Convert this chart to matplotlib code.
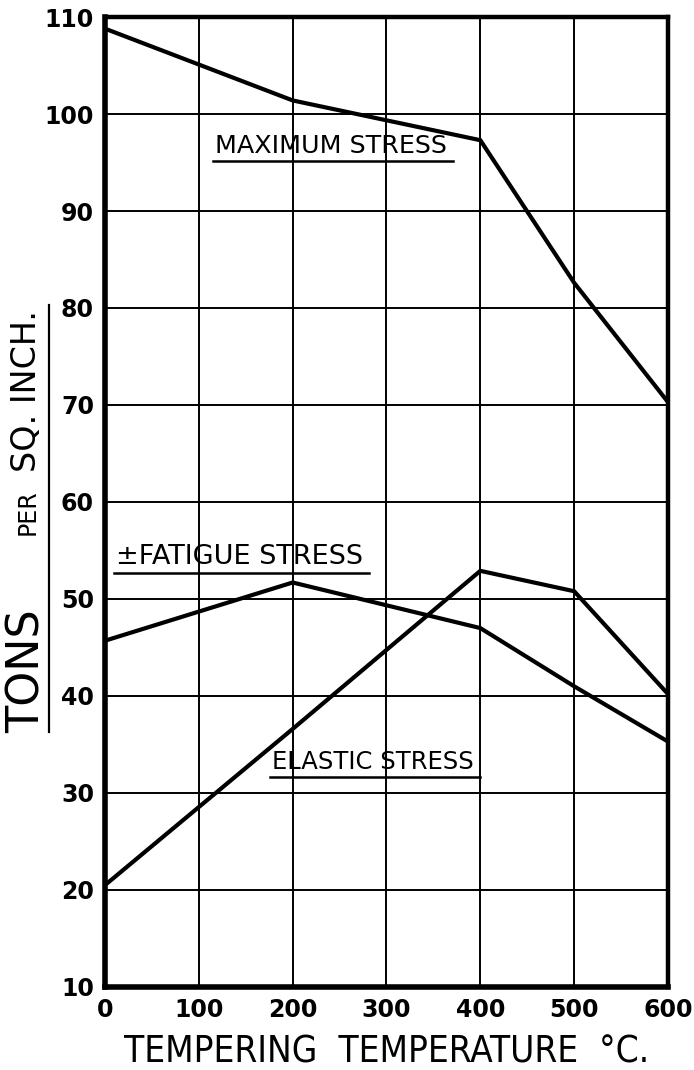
import matplotlib
matplotlib.use("Agg")
import matplotlib.pyplot as plt
from matplotlib.lines import Line2D

plt.rcParams['font.family'] = ['DejaVu Sans']

temps = [0, 200, 400, 500, 600]
max_stress = [108.8, 101.4, 97.3, 82.6, 70.3]
fatigue_stress = [45.7, 51.7, 47.0, 41.0, 35.3]
elastic_stress = [20.5, 36.6, 52.9, 50.8, 40.2]

x_ticks = [0, 100, 200, 300, 400, 500, 600]
y_ticks = [10, 20, 30, 40, 50, 60, 70, 80, 90, 100, 110]

# curve labels: text, left x, centre y, size
labels = [
    ("MAXIMUM STRESS", 117, 96.7, 18.3),
    ("\u00b1FATIGUE STRESS", 12, 54.3, 19.5),
    ("ELASTIC STRESS", 178, 33.2, 17.5),
]

fig = plt.figure(figsize=(6.94, 10.70), dpi=100)
ax = fig.add_axes([0.1513, 0.0776, 0.8112, 0.9065])

for ys in (max_stress, fatigue_stress, elastic_stress):
    ax.plot(temps, ys, color='black', lw=3.0, solid_joinstyle='miter')

ax.set_xlim(0, 600)
ax.set_ylim(10, 110)
ax.set_xticks(x_ticks)
ax.set_yticks(y_ticks)
ax.grid(True, color='black', lw=1.4)
ax.tick_params(length=0, labelsize=17, pad=8)
for t in ax.get_xticklabels() + ax.get_yticklabels():
    t.set_fontweight('bold')
for side, w in (('left', 4.0), ('bottom', 4.0), ('right', 3.2), ('top', 3.2)):
    ax.spines[side].set_linewidth(w)

ax.set_xlabel("TEMPERING  TEMPERATURE  \u00b0C.", fontsize=26.5,
              fontstretch='condensed', labelpad=8)

texts = []
for s, x, y, size in labels:
    texts.append(ax.text(x, y, s, fontsize=size, ha='left', va='center'))

# vertical units label
fig.text(27 / 694, 1 - 733 / 1070, "TONS", rotation=90, fontsize=32,
         ha='center', va='bottom')
fig.text(28 / 694, 1 - 535 / 1070, "PER", rotation=90, fontsize=17,
         ha='center', va='bottom')
fig.text(26 / 694, 1 - 472 / 1070, "SQ. INCH.", rotation=90, fontsize=24,
         ha='center', va='bottom')
fig.add_artist(Line2D([49 / 694, 49 / 694], [1 - 732 / 1070, 1 - 305 / 1070],
                      color='black', lw=1.6, transform=fig.transFigure))

# underline each curve label
fig.canvas.draw()
r = fig.canvas.get_renderer()
inv = fig.transFigure.inverted()
for t in texts:
    bb = t.get_window_extent(r)
    (x0, y0), (x1, y1) = inv.transform([(bb.x0 - 2, bb.y0 - 3), (bb.x1 + 6, bb.y1)])
    fig.add_artist(Line2D([x0, x1], [y0, y0], color='black', lw=1.8,
                          transform=fig.transFigure))

fig.savefig('out.png', dpi=100)
